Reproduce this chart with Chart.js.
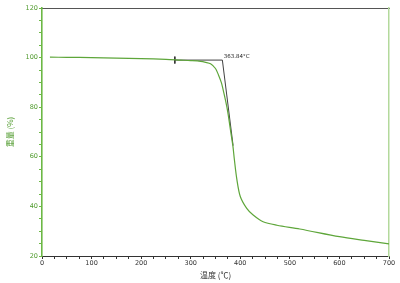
<!DOCTYPE html>
<html>
<head>
<meta charset="utf-8">
<script src="https://cdn.jsdelivr.net/npm/chart.js@4/dist/chart.umd.min.js"></script>
<style>
  html, body { margin: 0; padding: 0; background: #fff; }
  #wrap { width: 400px; height: 283px; }
</style>
</head>
<body>
<div id="wrap"><canvas id="tga"></canvas></div>
<script>
// TGA curve
const tempC = [16, 50, 100, 150, 200, 250, 280, 300, 320, 330, 340, 350, 356, 362, 366, 370, 373, 376, 380, 385, 388, 393, 400, 413, 426, 446, 474, 520, 600, 650, 700];
const weightPct = [100.2, 100.1, 100.0, 99.8, 99.6, 99.3, 99.0, 98.8, 98.5, 98.1, 97.5, 95.6, 93.0, 89.8, 86.5, 83.0, 80.0, 76.5, 71.0, 64.5, 59.0, 51.0, 44.0, 39.2, 36.5, 33.8, 32.4, 30.9, 27.8, 26.3, 24.9];

// onset construction: baseline + tangent
const tangentX = [268, 268, null, 268, 363.84, 385.5];
const tangentY = [100.4, 97.6, null, 99.0, 99.0, 64.5];
const onsetLabel = "363.84°C";

const xTicks = [0, 100, 200, 300, 400, 500, 600, 700];
const yTicks = [20, 40, 60, 80, 100, 120];

const toPoints = (xs, ys) => xs.map((x, i) => (x === null ? { x: null, y: null } : { x, y: ys[i] }));

const onsetText = {
  id: "onsetText",
  afterDatasetsDraw(chart) {
    const { ctx, scales } = chart;
    ctx.save();
    ctx.font = "5.5px 'DejaVu Sans'";
    ctx.fillStyle = "#222";
    ctx.textBaseline = "middle";
    ctx.fillText(onsetLabel, scales.x.getPixelForValue(363.84) + 1.5, scales.y.getPixelForValue(100.3));
    ctx.restore();
  },
};

new Chart(document.getElementById("tga").getContext("2d"), {
  type: "scatter",
  data: {
    datasets: [
      {
        data: toPoints(tempC, weightPct),
        showLine: true,
        borderColor: "#5ea63a",
        borderWidth: 1.2,
        pointRadius: 0,
        tension: 0.3,
      },
      {
        data: toPoints(tangentX, tangentY),
        showLine: true,
        spanGaps: false,
        borderColor: "#2b2b2b",
        borderWidth: 0.9,
        pointRadius: 0,
      },
    ],
  },
  options: {
    responsive: true,
    maintainAspectRatio: false,
    animation: false,
    layout: { padding: { left: 0, right: 11, top: 8, bottom: 0 } },
    plugins: { legend: { display: false }, tooltip: { enabled: false } },
    scales: {
      x: {
        type: "linear",
        min: 0,
        max: 700,
        afterFit: (s) => { s.height = 27; },
        afterBuildTicks: (s) => { s.ticks = Array.from({ length: 29 }, (_, i) => ({ value: i * 25 })); },
        ticks: {
          autoSkip: false,
          maxRotation: 0,
          padding: 0,
          color: "#333",
          font: { family: "DejaVu Sans", size: 6.5 },
          callback: (v) => (xTicks.includes(v) ? String(v) : ""),
        },
        grid: { drawOnChartArea: false, drawTicks: true, tickLength: 3, color: "#333" },
        border: { color: "#333", width: 1 },
        title: {
          display: true,
          text: "温度 (℃)",
          color: "#333",
          font: { family: "Noto Sans CJK SC", size: 8 },
          padding: { top: 0, bottom: 3 },
        },
      },
      x2: {
        type: "linear",
        position: "top",
        min: 0,
        max: 700,
        afterFit: (s) => { s.height = 0; },
        ticks: { display: false },
        grid: { display: false },
        border: { color: "#555", width: 1 },
      },
      y: {
        min: 20,
        max: 120,
        afterFit: (s) => { s.width = 42; },
        afterBuildTicks: (s) => { s.ticks = Array.from({ length: 21 }, (_, i) => ({ value: 20 + i * 5 })); },
        ticks: {
          autoSkip: false,
          padding: 1,
          color: "#4f9a2c",
          font: { family: "DejaVu Sans", size: 6.5 },
          callback: (v) => (yTicks.includes(v) ? String(v) : ""),
        },
        grid: { drawOnChartArea: false, drawTicks: true, tickLength: 3, color: "#6cb845" },
        border: { color: "#6cb845", width: 1.6 },
        title: {
          display: true,
          text: "重量 (%)",
          color: "#4f9a2c",
          font: { family: "Noto Sans CJK SC", size: 8 },
          padding: { top: 5, bottom: 0 },
        },
      },
      y2: {
        position: "right",
        min: 20,
        max: 120,
        afterFit: (s) => { s.width = 0; },
        ticks: { display: false },
        grid: { display: false },
        border: { color: "#b3d99c", width: 1.5 },
      },
    },
  },
  plugins: [onsetText],
});
</script>
</body>
</html>
